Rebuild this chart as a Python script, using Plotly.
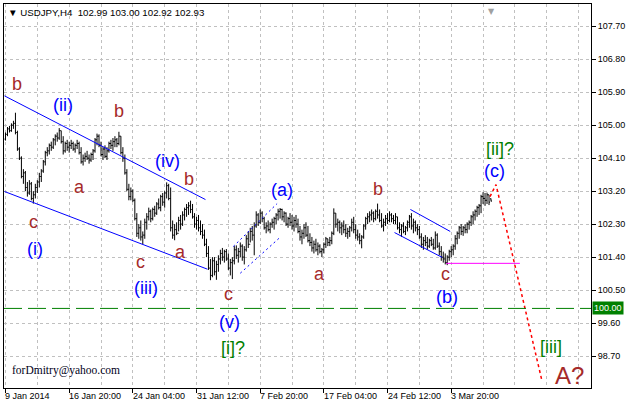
import plotly.graph_objects as go

# ---------------- data (bar index, prices) ----------------
bar_high = [104.80,104.95,104.98,105.05,105.12,105.34,104.85,104.40,104.15,103.80,
            103.75,103.45,103.50,103.45,103.20,103.40,103.50,103.70,103.80,104.05,
            104.30,104.40,104.50,104.55,104.65,104.75,104.80,104.92,104.85,104.70,
            104.55,104.60,104.55,104.60,104.55,104.50,104.60,104.55,104.40,104.20,
            104.25,104.30,104.20,104.25,104.35,104.65,104.77,104.75,104.55,104.40,
            104.45,104.40,104.55,104.60,104.65,104.70,104.65,104.82,104.70,104.40,
            104.20,103.80,103.40,103.30,103.25,103.00,102.60,102.30,102.40,102.10,
            102.45,102.60,102.75,102.70,102.75,102.80,102.90,103.00,103.10,103.15,
            103.20,103.44,103.40,103.30,102.40,102.30,102.35,102.50,102.55,102.65,
            102.75,102.85,102.90,102.94,102.85,102.60,102.50,102.55,102.40,102.30,
            102.15,101.90,101.70,101.35,101.40,101.40,101.30,101.45,101.60,101.65,
            101.60,101.62,101.50,101.35,101.40,101.70,101.72,101.65,101.80,101.75,
            101.70,102.00,102.10,102.20,102.25,102.35,102.65,102.60,102.70,102.65,
            102.50,102.35,102.40,102.35,102.45,102.50,102.60,102.72,102.74,102.72,
            102.65,102.62,102.50,102.60,102.55,102.50,102.55,102.45,102.25,102.15,
            102.30,102.35,102.25,102.05,101.95,101.85,101.90,101.80,101.75,101.65,
            101.80,101.95,101.90,101.95,102.10,102.73,102.60,102.45,102.40,102.35,
            102.40,102.30,102.20,102.25,102.45,102.50,102.30,102.15,102.05,102.00,
            102.30,102.50,102.60,102.65,102.70,102.65,102.70,102.86,102.70,102.60,
            102.45,102.55,102.60,102.65,102.60,102.55,102.60,102.50,102.35,102.30,
            102.35,102.25,102.40,102.55,102.60,102.45,102.40,102.30,102.25,102.05,
            101.95,102.00,101.95,101.90,101.95,101.90,102.10,102.05,101.80,101.70,
            101.55,101.50,101.45,101.60,101.70,101.75,102.00,102.10,102.25,102.30,
            102.25,102.30,102.35,102.40,102.55,102.65,102.70,102.80,102.85,103.10,
            103.17,103.15,103.16,103.10,103.00]
bar_low = [104.58,104.70,104.80,104.82,104.90,104.75,104.30,104.05,103.55,103.40,
           103.20,103.05,103.10,102.95,102.86,103.00,103.15,103.30,103.45,103.70,
           103.90,104.15,104.20,104.30,104.35,104.45,104.55,104.60,104.50,104.20,
           104.25,104.30,104.25,104.35,104.30,104.25,104.35,104.20,103.95,103.90,
           104.00,104.05,103.95,104.00,104.05,104.25,104.45,104.40,104.15,104.05,
           104.10,104.05,104.25,104.35,104.30,104.40,104.40,104.45,104.20,104.00,
           103.65,103.20,102.95,102.95,102.90,102.40,101.95,101.90,101.85,101.75,
           101.90,102.15,102.40,102.35,102.40,102.50,102.55,102.70,102.65,102.80,
           102.75,103.00,102.95,102.10,101.90,101.86,102.00,102.10,102.15,102.25,
           102.40,102.50,102.55,102.60,102.45,102.20,102.15,102.10,102.00,101.90,
           101.70,101.40,101.05,100.77,100.85,100.90,100.78,101.00,101.20,101.30,
           101.25,101.30,101.05,100.90,100.80,101.20,101.35,101.25,101.40,101.30,
           101.20,101.55,101.65,101.80,101.85,101.45,102.20,102.25,102.30,102.35,
           102.15,102.05,102.10,102.05,102.20,102.15,102.30,102.40,102.45,102.40,
           102.35,102.25,102.20,102.25,102.15,102.10,102.20,102.05,101.85,101.75,
           101.90,101.95,101.80,101.70,101.55,101.50,101.55,101.45,101.50,101.40,
           101.50,101.65,101.70,101.70,101.75,102.00,102.20,102.10,102.05,102.00,
           102.05,101.95,101.90,101.95,102.10,102.05,101.90,101.85,101.75,101.64,
           101.90,102.15,102.30,102.35,102.40,102.35,102.40,102.45,102.35,102.20,
           102.10,102.25,102.30,102.35,102.35,102.30,102.30,102.15,102.05,101.95,
           102.05,102.00,102.10,102.20,102.15,102.05,102.10,102.00,101.90,101.65,
           101.60,101.70,101.60,101.65,101.70,101.60,101.60,101.65,101.45,101.30,
           101.25,101.20,101.18,101.30,101.40,101.45,101.60,101.75,101.90,102.00,
           101.98,102.05,102.05,102.15,102.25,102.30,102.40,102.50,102.55,102.60,
           102.85,102.80,102.85,102.82,102.92]
bar_open = [104.62,104.75,104.90,104.85,105.00,105.05,104.80,104.35,104.10,103.60,
            103.70,103.30,103.15,103.40,103.00,103.10,103.30,103.45,103.60,103.75,
            104.00,104.25,104.30,104.45,104.40,104.60,104.70,104.65,104.85,104.55,
            104.30,104.50,104.40,104.45,104.50,104.35,104.45,104.50,104.25,104.00,
            104.10,104.15,104.10,104.05,104.20,104.30,104.60,104.70,104.45,104.20,
            104.35,104.15,104.30,104.50,104.45,104.55,104.60,104.50,104.70,104.25,
            104.10,103.70,103.25,103.05,103.20,102.95,102.45,102.05,102.20,101.95,
            102.00,102.35,102.50,102.65,102.45,102.70,102.60,102.85,102.75,103.05,
            102.90,103.15,103.35,103.00,102.20,102.00,102.15,102.05,102.40,102.30,
            102.55,102.70,102.75,102.80,102.70,102.50,102.30,102.40,102.20,102.10,
            102.00,101.75,101.50,101.10,100.90,101.30,101.00,101.20,101.35,101.50,
            101.40,101.55,101.35,101.10,101.25,101.30,101.60,101.45,101.55,101.70,
            101.40,101.60,101.90,101.75,102.10,102.00,102.25,102.55,102.35,102.60,
            102.45,102.20,102.25,102.15,102.30,102.35,102.45,102.55,102.65,102.70,
            102.50,102.60,102.30,102.45,102.35,102.25,102.40,102.30,102.10,101.95,
            102.05,102.20,102.00,101.85,101.80,101.65,101.75,101.60,101.70,101.55,
            101.60,101.75,101.90,101.80,101.85,102.05,102.60,102.30,102.35,102.20,
            102.25,102.15,102.05,102.10,102.20,102.35,102.15,102.00,101.95,101.85,
            101.95,102.25,102.45,102.50,102.55,102.60,102.45,102.65,102.55,102.40,
            102.25,102.35,102.45,102.40,102.55,102.45,102.40,102.50,102.20,102.15,
            102.25,102.10,102.20,102.35,102.50,102.25,102.35,102.20,102.15,101.95,
            101.75,101.85,101.80,101.70,101.85,101.75,101.65,102.00,101.70,101.55,
            101.40,101.35,101.25,101.40,101.55,101.60,101.70,101.90,102.05,102.20,
            102.10,102.20,102.15,102.30,102.35,102.50,102.55,102.65,102.75,102.80,
            103.05,103.00,102.95,103.10,102.99]
bar_close = [104.75,104.90,104.85,105.00,105.05,104.80,104.35,104.10,103.60,103.70,
             103.30,103.15,103.40,103.00,103.10,103.30,103.45,103.60,103.75,104.00,
             104.25,104.30,104.45,104.40,104.60,104.70,104.65,104.85,104.55,104.30,
             104.50,104.40,104.45,104.50,104.35,104.45,104.50,104.25,104.00,104.10,
             104.15,104.10,104.05,104.20,104.30,104.60,104.70,104.45,104.20,104.35,
             104.15,104.30,104.50,104.45,104.55,104.60,104.50,104.70,104.25,104.10,
             103.70,103.25,103.05,103.20,102.95,102.45,102.05,102.20,101.95,102.00,
             102.35,102.50,102.65,102.45,102.70,102.60,102.85,102.75,103.05,102.90,
             103.15,103.35,103.00,102.20,102.00,102.15,102.05,102.40,102.30,102.55,
             102.70,102.75,102.80,102.70,102.50,102.30,102.40,102.20,102.10,102.00,
             101.75,101.50,101.10,100.90,101.30,101.00,101.20,101.35,101.50,101.40,
             101.55,101.35,101.10,101.25,101.30,101.60,101.45,101.55,101.70,101.40,
             101.60,101.90,101.75,102.10,102.00,102.25,102.55,102.35,102.60,102.45,
             102.20,102.25,102.15,102.30,102.35,102.45,102.55,102.65,102.70,102.50,
             102.60,102.30,102.45,102.35,102.25,102.40,102.30,102.10,101.95,102.05,
             102.20,102.00,101.85,101.80,101.65,101.75,101.60,101.70,101.55,101.60,
             101.75,101.90,101.80,101.85,102.05,102.60,102.30,102.35,102.20,102.25,
             102.15,102.05,102.10,102.20,102.35,102.15,102.00,101.95,101.85,101.95,
             102.25,102.45,102.50,102.55,102.60,102.45,102.65,102.55,102.40,102.25,
             102.35,102.45,102.40,102.55,102.45,102.40,102.50,102.20,102.15,102.25,
             102.10,102.20,102.35,102.50,102.25,102.35,102.20,102.15,101.95,101.75,
             101.85,101.80,101.70,101.85,101.75,101.65,102.00,101.70,101.55,101.40,
             101.35,101.25,101.40,101.55,101.60,101.70,101.90,102.05,102.20,102.10,
             102.20,102.15,102.30,102.35,102.50,102.55,102.65,102.75,102.80,103.05,
             103.00,102.95,103.10,102.90,102.93]
bar_index = list(range(len(bar_close)))

date_tick_index = [0, 32, 64, 96, 128, 160, 192, 224]
date_tick_labels = ["9 Jan 2014", "16 Jan 20:00", "24 Jan 04:00", "31 Jan 12:00",
                    "7 Feb 20:00", "17 Feb 04:00", "24 Feb 12:00", "3 Mar 20:00"]
price_ticks = [98.70, 99.60, 100.50, 101.40, 102.30, 103.20, 104.10, 105.00, 105.90, 106.80, 107.70]
level_price = 100.00

# trend lines (bar index, price)
chan_upper_x = [-0.5, 100.5];   chan_upper_y = [105.80, 102.97]
chan_lower_x = [-0.5, 101.5];   chan_lower_y = [103.19, 101.07]
dot_upper_x = [114.5, 136.5];   dot_upper_y = [101.69, 102.86]
dot_lower_x = [118, 138];       dot_lower_y = [100.96, 101.94]
small_upper_x = [203.5, 223.5]; small_upper_y = [102.70, 102.10]
small_lower_x = [195.5, 219.5]; small_lower_y = [102.07, 101.39]
support_x = [221.5, 258.5];     support_y = [101.23, 101.23]
proj_x = [243.5, 246.5, 269.5]; proj_y = [103.05, 103.38, 98.05]

# wave labels
brown_text = ["b", "b", "a", "c", "b", "c", "a", "c", "a", "b", "c"]
brown_x = [6, 57, 37, 14, 92, 68, 88, 112, 158, 187, 221]
brown_y = [106.13, 105.39, 103.30, 102.35, 103.52, 101.26, 101.53, 100.39, 100.93, 103.27, 100.93]
blue_text = ["(ii)", "(i)", "(iv)", "(iii)", "(v)", "(a)", "(b)", "(c)"]
blue_x = [29, 15, 81.5, 70.5, 112.5, 139, 222, 246]
blue_y = [105.56, 101.61, 104.03, 100.55, 99.62, 103.24, 100.30, 103.76]
green_text = ["[i]?", "[ii]?", "[iii]"]
green_x = [114.5, 248.5, 274]
green_y = [98.92, 104.36, 98.94]
big_text = "A?"; big_x = 283.5; big_y = 98.18

# ---------------- figure ----------------
BROWN = "#a52a2a"; BLUE = "#0000ff"; GREEN = "#008000"
FONT = "Liberation Sans, Arial, sans-serif"
GRID = "#c0c0c0"

fig = go.Figure()
fig.add_trace(go.Ohlc(
    x=bar_index, open=bar_open, high=bar_high, low=bar_low, close=bar_close,
    increasing=dict(line=dict(color="black", width=1)),
    decreasing=dict(line=dict(color="black", width=1)),
    tickwidth=0.5, hoverinfo="skip", showlegend=False))

def line(xs, ys, color, dash="solid", width=1):
    fig.add_trace(go.Scatter(x=xs, y=ys, mode="lines", showlegend=False, hoverinfo="skip",
                             line=dict(color=color, width=width, dash=dash)))

line(chan_upper_x, chan_upper_y, BLUE)
line(chan_lower_x, chan_lower_y, BLUE)
line(dot_upper_x, dot_upper_y, BLUE, "2px,3px")
line(dot_lower_x, dot_lower_y, BLUE, "2px,3px")
line(small_upper_x, small_upper_y, BLUE)
line(small_lower_x, small_lower_y, BLUE)
line(support_x, support_y, "#ff00ff")
line(proj_x, proj_y, "#ff0000", "3px,3px", 1.5)

anns = []
for t, x, y in zip(brown_text, brown_x, brown_y):
    anns.append(dict(x=x, y=y, text=t, showarrow=False, font=dict(family=FONT, size=18, color=BROWN)))
for t, x, y in zip(blue_text, blue_x, blue_y):
    anns.append(dict(x=x, y=y, text=t, showarrow=False, font=dict(family=FONT, size=18, color=BLUE)))
for t, x, y in zip(green_text, green_x, green_y):
    anns.append(dict(x=x, y=y, text=t, showarrow=False, font=dict(family=FONT, size=18, color=GREEN)))
anns.append(dict(x=big_x, y=big_y, text=big_text, showarrow=False,
                 font=dict(family=FONT, size=24, color=BROWN)))

# x-axis date labels, left aligned at their tick
for xi, lab in zip(date_tick_index, date_tick_labels):
    anns.append(dict(x=xi, y=0, xref="x", yref="paper", text=lab, showarrow=False,
                     xanchor="left", yanchor="top", yshift=-1, xshift=-2,
                     font=dict(family=FONT, size=9, color="black")))
# price level label
anns.append(dict(x=1, y=level_price, xref="paper", yref="y", text="100.00", showarrow=False,
                 xanchor="left", yanchor="middle", xshift=1, bgcolor=GREEN, borderpad=1,
                 font=dict(family=FONT, size=9, color="white")))
# header
anns.append(dict(x=0, y=1, xref="paper", yref="paper", xanchor="left", yanchor="top",
                 xshift=2, yshift=-1, showarrow=False,
                 text="\u25bc USDJPY,H4  102.99 103.00 102.92 102.93",
                 font=dict(family=FONT, size=9.7, color="black")))
anns.append(dict(x=0, y=0, xref="paper", yref="paper", xanchor="left", yanchor="bottom",
                 xshift=6, yshift=9, showarrow=False, text="forDmitry@yahoo.com",
                 font=dict(family="Liberation Serif, Times New Roman, serif", size=11.5, color="#000020")))
anns.append(dict(x=bar_index[-1], y=1, xref="x", yref="paper", yanchor="top", yshift=-1,
                 showarrow=False, text="\u25bc", font=dict(family="DejaVu Sans", size=8, color="#a0a0a0")))

shapes = [
    dict(type="line", xref="paper", yref="y", x0=0, x1=1, y0=level_price, y1=level_price,
         line=dict(color=GREEN, width=1, dash="18px,6px")),
]

fig.update_layout(
    width=628, height=407,
    margin=dict(l=3, r=35, t=3, b=19),
    paper_bgcolor="white", plot_bgcolor="white",
    annotations=anns, shapes=shapes,
    font=dict(family=FONT, size=9, color="black"),
    xaxis=dict(range=[-0.75, 294.25], rangeslider=dict(visible=False),
               tickvals=date_tick_index, showticklabels=False,
               ticks="outside", ticklen=4, tickcolor="black",
               showgrid=True, gridcolor=GRID, griddash="3px,3px", gridwidth=1,
               minor=dict(dtick=16, tick0=0, showgrid=True, gridcolor=GRID, griddash="3px,3px", ticks=""),
               showline=True, linecolor="black", linewidth=1, mirror=True, zeroline=False),
    yaxis=dict(range=[97.828, 108.307], side="right",
               tickvals=price_ticks, ticktext=["%.2f" % v for v in price_ticks],
               ticks="outside", ticklen=4, tickcolor="black",
               tickfont=dict(family=FONT, size=9, color="black"),
               showgrid=True, gridcolor=GRID, griddash="3px,3px", gridwidth=1,
               showline=True, linecolor="black", linewidth=1, mirror=True, zeroline=False),
)

fig.write_html("out.html", config={"displayModeBar": False},
               post_script="document.body.style.margin='0';document.body.style.padding='0';")
